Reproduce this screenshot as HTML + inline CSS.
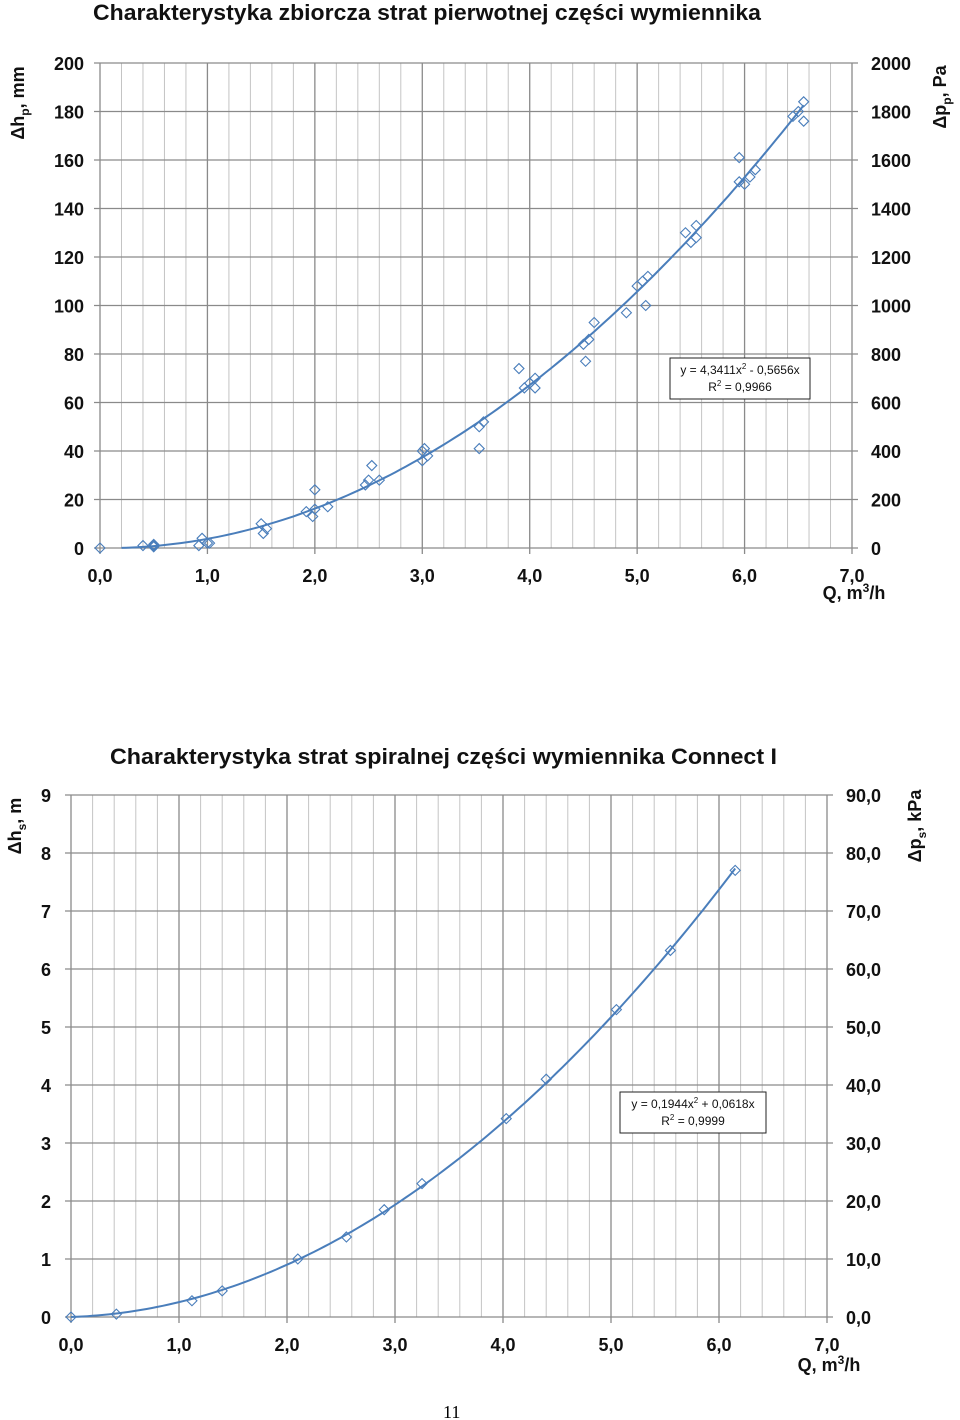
<!DOCTYPE html>
<html><head><meta charset="utf-8"><style>
html,body{margin:0;padding:0;background:#fff;width:960px;height:1420px;overflow:hidden}
svg{display:block;font-family:"Liberation Sans",sans-serif}
</style></head><body>
<svg id="s" width="960" height="1420" viewBox="0 0 960 1420" xmlns="http://www.w3.org/2000/svg">
<text x="443" y="1418" font-family="Liberation Serif" font-size="18" fill="#000">11</text>
</svg>
<script>
// Chart 1 data
const c1Q = [0,0.4,0.5,0.5,0.5,0.92,0.95,1.0,1.02,1.5,1.52,1.55,1.92,1.98,2.0,2.0,2.12,2.47,2.5,2.53,2.6,3.0,3.0,3.02,3.05,3.53,3.53,3.57,3.9,3.95,4.0,4.05,4.05,4.5,4.52,4.55,4.6,4.9,5.0,5.05,5.08,5.1,5.45,5.5,5.55,5.55,5.95,5.95,6.0,6.05,6.1,6.45,6.5,6.55,6.55];
const c1H = [0,1,0.5,1.5,1,1,4,2,2,10,6,8,15,13,24,16,17,26,28,34,28,36,40,41,38,41,50,52,74,66,68,66,70,84,77,86,93,97,108,110,100,112,130,126,133,128,161,151,150,153,156,178,180,176,184];
const c1Coef = [4.3411,-0.5656];
const c1YTicks = ["0","20","40","60","80","100","120","140","160","180","200"];
const c1Y2Ticks = ["0","200","400","600","800","1000","1200","1400","1600","1800","2000"];
const xTickLabels = ["0,0","1,0","2,0","3,0","4,0","5,0","6,0","7,0"];
// Chart 2 data
const c2Q = [0,0.42,1.12,1.4,2.1,2.55,2.9,3.25,4.03,4.4,5.05,5.55,6.15];
const c2H = [0,0.05,0.28,0.45,1.0,1.38,1.85,2.3,3.42,4.1,5.3,6.32,7.7];
const c2Coef = [0.1944,0.0618];
const c2YTicks = ["0","1","2","3","4","5","6","7","8","9"];
const c2Y2Ticks = ["0,0","10,0","20,0","30,0","40,0","50,0","60,0","70,0","80,0","90,0"];

const svg=document.getElementById('s');
const NS="http://www.w3.org/2000/svg";
function mk(tag,attrs,parent,text){const e=document.createElementNS(NS,tag);for(const k in attrs)e.setAttribute(k,attrs[k]);if(text!==undefined)e.textContent=text;(parent||svg).appendChild(e);return e;}

function chart(cfg){
  const g=mk('g',{});
  
  
  const X=q=>cfg.x0+(cfg.x1-cfg.x0)*q/7;
  const Y=v=>cfg.y0-(cfg.y0-cfg.y1)*v/cfg.ymax;
  // vertical grid every 0.2
  for(let i=0;i<=35;i++){
    const q=i*0.2, major=i%5===0;
    const l=mk('line',{x1:X(q),x2:X(q),y1:cfg.y1,y2:cfg.y0+(major?6:0),stroke:major?'#8a8a8a':'#c4c4c4','stroke-width':major?1.3:1},g);
    
    
  }
  const n=cfg.yt.length;
  for(let i=0;i<n;i++){
    const v=cfg.ymax*i/(n-1), y=Y(v);
    const l=mk('line',{x1:cfg.x0-6,x2:cfg.x1+6,y1:y,y2:y,stroke:'#8a8a8a','stroke-width':1.2},g);
    
    
    const t=mk('text',{x:cfg.ylx,y:y+7,'font-size':18,'font-weight':'bold','text-anchor':cfg.ylAnchor,fill:'#111'},g,cfg.yt[i]);
    
    
    const t2=mk('text',{x:cfg.x1+19,y:y+7,'font-size':18,'font-weight':'bold',fill:'#111'},g,cfg.y2t[i]);
    
    
  }
  for(let i=0;i<xTickLabels.length;i++){
    const t=mk('text',{x:X(i),y:cfg.y0+34,'font-size':18,'font-weight':'bold','text-anchor':'middle',fill:'#111'},g,xTickLabels[i]);
    
    
  }
  // trend line
  let d='';
  for(let q=cfg.qs;q<=cfg.qe+1e-9;q+=0.05){const v=cfg.coef[0]*q*q+cfg.coef[1]*q;d+=(d?'L':'M')+X(q).toFixed(1)+','+Y(Math.max(v,0)).toFixed(1);}
  const p=mk('path',{d:d,fill:'none',stroke:'#4a7ebb','stroke-width':2},g);
  
  
  // points
  for(let i=0;i<cfg.qv.length;i++){
    const x=X(cfg.qv[i]),y=Y(cfg.hv[i]),r=5;
    const m=mk('polygon',{points:`${x},${y-r} ${x+r},${y} ${x},${y+r} ${x-r},${y}`,fill:'none',stroke:'#4a7ebb','stroke-width':1.1},g);
    
    
  }
  // equation box
  const b=cfg.box;
  const br=mk('rect',{x:b[0],y:b[1],width:b[2],height:b[3],fill:'#fff',stroke:'#222','stroke-width':1},g);
  
  
  const e1=mk('text',{x:b[0]+b[2]/2,y:b[1]+16,'font-size':12,'text-anchor':'middle',fill:'#111'},g);
  e1.innerHTML=cfg.eq;
  
  
  const e2=mk('text',{x:b[0]+b[2]/2,y:b[1]+33,'font-size':12,'text-anchor':'middle',fill:'#111'},g);
  e2.innerHTML=cfg.r2;
  
  
  // title
  const tt=mk('text',{x:cfg.title[1],y:cfg.title[2],'font-size':22,'font-weight':'bold',fill:'#111',textLength:cfg.title[3],lengthAdjust:'spacingAndGlyphs'},g,cfg.title[0]);
  
  
  // axis titles
  const a1=mk('text',{transform:`translate(${cfg.ya[0]},${cfg.ya[1]}) rotate(-90)`,'font-size':18,'font-weight':'bold','text-anchor':'middle',fill:'#111'},g);
  a1.innerHTML=cfg.ya[2];
  
  
  const a2=mk('text',{transform:`translate(${cfg.ya2[0]},${cfg.ya2[1]}) rotate(-90)`,'font-size':18,'font-weight':'bold','text-anchor':'middle',fill:'#111'},g);
  a2.innerHTML=cfg.ya2[2];
  
  
  const xa=mk('text',{x:cfg.xa[0],y:cfg.xa[1],'font-size':18,'font-weight':'bold','text-anchor':'middle',fill:'#111'},g);
  xa.innerHTML='Q, m<tspan font-size="12" dy="-7">3</tspan><tspan dy="7">/h</tspan>';
  
  
}

chart({name:'chart-primary-losses',x0:100,x1:852,y0:548,y1:63,ymax:200,yt:c1YTicks,y2t:c1Y2Ticks,ylx:84,ylAnchor:'end',
  qv:c1Q,hv:c1H,coef:c1Coef,qs:0.2,qe:6.55,box:[670,358,140,41],
  eq:'y = 4,3411x<tspan font-size="8" dy="-5">2</tspan><tspan dy="5"> - 0,5656x</tspan>',r2:'R<tspan font-size="8" dy="-5">2</tspan><tspan dy="5"> = 0,9966</tspan>',
  title:['Charakterystyka zbiorcza strat pierwotnej części  wymiennika',93,20,668],
  ya:[24,103,'Δh<tspan font-size="12" dy="5">p</tspan><tspan dy="-5">, mm</tspan>'],
  ya2:[946,97,'Δp<tspan font-size="12" dy="5">p</tspan><tspan dy="-5">, Pa</tspan>'],xa:[854,599]});
chart({name:'chart-spiral-losses',x0:71,x1:827,y0:1317,y1:795,ymax:9,yt:c2YTicks,y2t:c2Y2Ticks,ylx:46,ylAnchor:'middle',
  qv:c2Q,hv:c2H,coef:c2Coef,qs:0,qe:6.15,box:[620,1092,146,41],
  eq:'y = 0,1944x<tspan font-size="8" dy="-5">2</tspan><tspan dy="5"> + 0,0618x</tspan>',r2:'R<tspan font-size="8" dy="-5">2</tspan><tspan dy="5"> = 0,9999</tspan>',
  title:['Charakterystyka strat spiralnej części  wymiennika Connect I',110,764,667],
  ya:[21,826,'Δh<tspan font-size="12" dy="5">s</tspan><tspan dy="-5">, m</tspan>'],
  ya2:[921,826,'Δp<tspan font-size="12" dy="5">s</tspan><tspan dy="-5">, kPa</tspan>'],xa:[829,1371]});
</script>
</body></html>
